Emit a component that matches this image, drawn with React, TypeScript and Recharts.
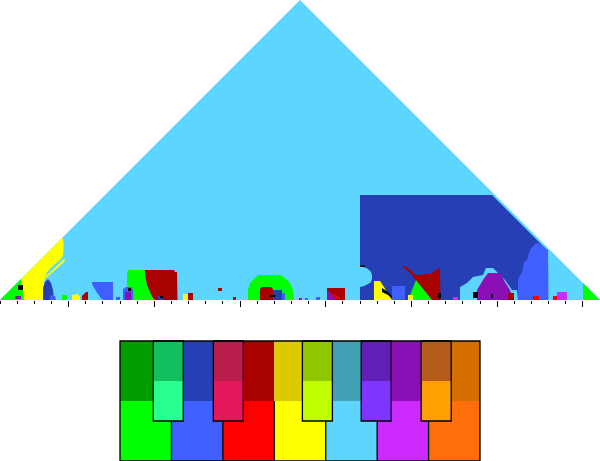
import React from 'react';
import { ComposedChart, Area, XAxis, YAxis, ReferenceArea, ReferenceLine } from 'recharts';

type Seg = [number, number, number]; // [time, low level, high level]

// ---- key colours (pitch class order C .. B) ----
const PITCH_NAMES = ['C', 'C#', 'D', 'D#', 'E', 'F', 'F#', 'G', 'G#', 'A', 'A#', 'B'];
const MAJOR_COLORS = ['#009c00', '#12bf5e', '#273fb5', '#b81d4c', '#a90000', '#dcc900', '#8fc700', '#42a1b5', '#611fb5', '#8a0fb5', '#b45c19', '#d56e00'];
const MINOR_COLORS = ['#00ff00', '#28ff8c', '#3f5fff', '#e2185a', '#ff0000', '#ffff00', '#bfff00', '#5dd5ff', '#8035ff', '#cc2aff', '#ffa000', '#ff6d0c'];

const C_MIN = MINOR_COLORS[0];
const D_MAJ = MAJOR_COLORS[2];
const D_MIN = MINOR_COLORS[2];
const E_MAJ = MAJOR_COLORS[4];
const E_MIN = MINOR_COLORS[4];
const F_MIN = MINOR_COLORS[5];
const G_MIN = MINOR_COLORS[7];
const A_MAJ = MAJOR_COLORS[9];
const A_MIN = MINOR_COLORS[9];
const MARK = '#000000';

// ---- keyscape regions ----
const TRIANGLE: Seg[] = [[0, 0, 0], [300, 0, 300], [600, 0, 0]];
const YELLOW_LEFT: Seg[] = [[21, 0, 21], [43, 0, 43], [44, 18, 44], [47, 28, 47], [55, 36, 55], [60, 40, 60], [63, 44, 62], [63.5, 50, 56]];
const YELLOW_STRIP: Seg[] = [[46, 22, 24], [64, 38, 41], [65, 39.5, 40]];
const GREEN_LEFT: Seg[] = [[0, 0, 0], [21, 0, 21], [22, 0, 14], [24, 0, 0]];
const DBLUE_LEFT: Seg[] = [[43, 0, 12], [45, 0, 18], [48, 0, 21], [51, 0, 17], [53, 0, 10], [54, 0, 0]];
const BLUE_LEFT_BIT: Seg[] = [[50, 0, 5], [55, 0, 4], [56, 0, 0]];
const PURPLE_LEFT_BIT: Seg[] = [[15, 1, 4], [21, 1, 4]];
const GREEN_BIT_1: Seg[] = [[62, 0, 5], [67, 0, 5]];
const YELLOW_BIT_1: Seg[] = [[72, 0, 5], [78, 0, 6], [80, 0, 3]];
const RED_BIT_1: Seg[] = [[82, 0, 4], [86, 0, 8], [88, 0, 8]];
const BLUE_PATCH_1: Seg[] = [[92, 16, 18], [96, 9, 18], [100, 3, 18], [103, 0, 18], [113, 0, 18]];
const BLUE_BIT_2: Seg[] = [[116, 0, 3], [120, 0, 3]];
const GREEN_BIG_1: Seg[] = [[127, 14, 27], [129, 12, 30], [132, 0, 30], [156, 0, 30]];
const BLUE_PATCH_2: Seg[] = [[123, 0, 11], [126, 0, 13], [131, 0, 13], [133, 0, 10]];
const PURPLE_PATCH_2: Seg[] = [[125, 0, 8], [131, 0, 8]];
const RED_BIG_1: Seg[] = [[145, 26, 30], [147, 15, 30], [150, 8, 30], [153, 2, 30], [155, 0, 30], [174, 0, 30], [175, 0, 28], [177, 0, 28], [177.5, 0, 0]];
const DBLUE_BIT_1: Seg[] = [[158, 0, 4], [163, 0, 4]];
const YELLOW_BIT_2: Seg[] = [[183, 0, 6], [188, 0, 6]];
const RED_BIT_2: Seg[] = [[188, 0, 7], [193, 0, 7]];
const RED_BIT_3: Seg[] = [[218, 9, 12], [222, 9, 12]];
const RED_BIT_4: Seg[] = [[233, 0, 3], [236, 0, 3]];
const GREEN_BIG_2: Seg[] = [[248, 0, 10], [250, 0, 17], [253, 0, 20], [258, 0, 25], [280, 0, 25], [285, 0, 22], [290, 0, 17], [293, 0, 10], [294, 0, 0]];
const RED_PATCH_2: Seg[] = [[260, 0, 11], [262, 0, 13], [271, 0, 13], [273, 0, 11]];
const DBLUE_PATCH_2: Seg[] = [[273, 0, 10], [282, 0, 10]];
const BLUE_BIT_3: Seg[] = [[282, 0, 7], [285, 0, 7]];
const PURPLE_BIT_3: Seg[] = [[299, 0, 2], [302, 0, 2]];
const BLUE_BIT_4: Seg[] = [[305, 0, 2], [308, 0, 2]];
const BLUE_BIT_5: Seg[] = [[316, 0, 3], [320, 0, 3]];
const RED_BOX: Seg[] = [[327, 0, 12], [345, 0, 12]];
const PURPLE_BOX: Seg[] = [[327, 0, 10], [330, 0, 8], [336, 0, 0]];
const RED_DIAG: Seg[] = [[333, 4, 6], [340, 0, 2]];
const DBLUE_BIG: Seg[] = [[360, 0, 105], [492, 0, 105], [548, 0, 49]];
const LBLUE_BULGE: Seg[] = [[360, 13, 34], [364, 14, 33], [368, 16, 31], [371, 18, 28], [372, 21, 25]];
const YELLOW_PATCH_3: Seg[] = [[374, 0, 19], [380, 0, 19], [384, 0, 13], [388, 0, 6], [392, 0, 0]];
const BLUE_PATCH_3: Seg[] = [[392, 0, 14], [405, 0, 14]];
const RED_BIG_3: Seg[] = [[403, 33, 35], [408, 29, 32], [412, 25, 28], [416, 19, 25], [420, 14, 25], [425, 8, 26], [430, 2, 26], [432, 0, 27], [436, 0, 30], [440, 0, 32], [440.5, 0, 0]];
const GREEN_TRI_3: Seg[] = [[408, 0, 0], [416, 0, 20], [432, 0, 0]];
const YELLOW_BIT_3: Seg[] = [[408, 0, 5], [413, 0, 5]];
const LBLUE_PATCH_4: Seg[] = [[460, 0, 13], [467, 0, 17], [473, 0, 23], [483, 0, 25], [486, 0, 32], [493, 0, 32], [497, 0, 28], [505, 0, 20], [512, 0, 10], [517, 0, 10], [518, 0, 0]];
const PURPLE_PATCH_4: Seg[] = [[477, 0, 10], [483, 0, 20], [488, 0, 27], [500, 0, 27], [505, 0, 18], [510, 0, 10], [513, 0, 0]];
const MAGENTA_BIT_4: Seg[] = [[453, 0, 3], [458, 0, 3]];
const RED_BIT_5: Seg[] = [[508, 0, 7], [514, 0, 7]];
const BLUE_RIGHT: Seg[] = [[518, 0, 20], [520, 0, 25], [522, 0, 27], [524, 0, 38], [527, 0, 40], [530, 0, 50], [534, 0, 55], [537, 0, 57], [541, 0, 55], [545, 0, 52], [548, 0, 50], [548.5, 0, 0]];
const RED_BIT_6: Seg[] = [[533, 0, 4], [539, 0, 4]];
const RED_BIT_7: Seg[] = [[553, 0, 4], [557, 0, 4]];
const MAGENTA_BIT_5: Seg[] = [[557, 0, 8], [567, 0, 8]];
const GREEN_RIGHT: Seg[] = [[583, 0, 17], [600, 0, 0]];
// small black marks
const MARK_1: Seg[] = [[18, 10, 15], [23, 10, 15]];
const MARK_2: Seg[] = [[128, 9, 12], [131, 9, 12]];
const MARK_3: Seg[] = [[160, 2, 4], [163, 2, 4]];
const MARK_4: Seg[] = [[270, 3, 5], [275, 3, 5]];
const MARK_5: Seg[] = [[360, 33, 34.5], [365, 33, 34.5]];
const MARK_6: Seg[] = [[382, 8, 12], [388, 5, 8], [392, 2, 4]];
const MARK_7: Seg[] = [[438, 2, 7], [441, 2, 7]];
const MARK_8: Seg[] = [[473, 2, 8], [478, 2, 8]];
const MARK_9: Seg[] = [[491, 2, 6], [493, 2, 6]];

const REGIONS: { color: string; pts: Seg[] }[] = [
  { color: G_MIN, pts: TRIANGLE },
  { color: F_MIN, pts: YELLOW_LEFT },
  { color: F_MIN, pts: YELLOW_STRIP },
  { color: C_MIN, pts: GREEN_LEFT },
  { color: D_MAJ, pts: DBLUE_LEFT },
  { color: D_MIN, pts: BLUE_LEFT_BIT },
  { color: A_MAJ, pts: PURPLE_LEFT_BIT },
  { color: C_MIN, pts: GREEN_BIT_1 },
  { color: F_MIN, pts: YELLOW_BIT_1 },
  { color: E_MAJ, pts: RED_BIT_1 },
  { color: D_MIN, pts: BLUE_PATCH_1 },
  { color: D_MIN, pts: BLUE_BIT_2 },
  { color: C_MIN, pts: GREEN_BIG_1 },
  { color: D_MIN, pts: BLUE_PATCH_2 },
  { color: A_MAJ, pts: PURPLE_PATCH_2 },
  { color: E_MAJ, pts: RED_BIG_1 },
  { color: D_MAJ, pts: DBLUE_BIT_1 },
  { color: F_MIN, pts: YELLOW_BIT_2 },
  { color: E_MAJ, pts: RED_BIT_2 },
  { color: E_MAJ, pts: RED_BIT_3 },
  { color: E_MAJ, pts: RED_BIT_4 },
  { color: C_MIN, pts: GREEN_BIG_2 },
  { color: E_MAJ, pts: RED_PATCH_2 },
  { color: D_MAJ, pts: DBLUE_PATCH_2 },
  { color: D_MIN, pts: BLUE_BIT_3 },
  { color: A_MAJ, pts: PURPLE_BIT_3 },
  { color: D_MIN, pts: BLUE_BIT_4 },
  { color: D_MIN, pts: BLUE_BIT_5 },
  { color: E_MAJ, pts: RED_BOX },
  { color: A_MAJ, pts: PURPLE_BOX },
  { color: E_MIN, pts: RED_DIAG },
  { color: D_MAJ, pts: DBLUE_BIG },
  { color: G_MIN, pts: LBLUE_BULGE },
  { color: F_MIN, pts: YELLOW_PATCH_3 },
  { color: D_MIN, pts: BLUE_PATCH_3 },
  { color: E_MAJ, pts: RED_BIG_3 },
  { color: C_MIN, pts: GREEN_TRI_3 },
  { color: F_MIN, pts: YELLOW_BIT_3 },
  { color: G_MIN, pts: LBLUE_PATCH_4 },
  { color: A_MAJ, pts: PURPLE_PATCH_4 },
  { color: A_MIN, pts: MAGENTA_BIT_4 },
  { color: E_MAJ, pts: RED_BIT_5 },
  { color: D_MIN, pts: BLUE_RIGHT },
  { color: E_MIN, pts: RED_BIT_6 },
  { color: E_MIN, pts: RED_BIT_7 },
  { color: A_MIN, pts: MAGENTA_BIT_5 },
  { color: C_MIN, pts: GREEN_RIGHT },
  { color: MARK, pts: MARK_1 },
  { color: MARK, pts: MARK_2 },
  { color: MARK, pts: MARK_3 },
  { color: MARK, pts: MARK_4 },
  { color: MARK, pts: MARK_5 },
  { color: MARK, pts: MARK_6 },
  { color: MARK, pts: MARK_7 },
  { color: MARK, pts: MARK_8 },
  { color: MARK, pts: MARK_9 },
];

// ---- time axis ticks (measures) ----
const TOTAL_MEASURES = 35;
const TICK_MEASURES = [0, 1, 2, 3, 4, 5, 6, 7, 8, 9, 10, 11, 12, 13, 14, 15, 16, 17, 18, 19, 20, 21, 22, 23, 24, 25, 26, 27, 28, 29, 30, 31, 32, 33, 34];
const MAJOR_MEASURES = [4, 9, 14, 19, 24, 29, 34];
const TIME_SPAN = 600;
const STEP = TIME_SPAN / TOTAL_MEASURES;
const TICKS = TICK_MEASURES.map((m) => m * STEP);

// merged table for the library
const TABLE = (() => {
  const rows: any[] = [];
  REGIONS.forEach((r, i) =>
    r.pts.forEach(([x, lo, hi], j) => rows.push({ x, ord: i * 1000 + j, [`r${i}`]: [lo, hi] }))
  );
  rows.sort((a, b) => a.x - b.x || a.ord - b.ord);
  return rows;
})();

// ---- keyboard legend ----
const WHITE_KEYS = [0, 2, 4, 5, 7, 9, 11];
const BLACK_KEYS = [1, 3, 6, 8, 10];
const BLACK_SHIFT = [0.11, 0.11, 0.08, 0.04, 0.04];
const WHITE_W = 12 / WHITE_KEYS.length;
const KEY_ROWS = PITCH_NAMES.map((name, pc) => ({ pc, name, lvl: 0 })).concat([{ pc: 12, name: '', lvl: 3 }]);
const LINE_W = 1.3;

const renderTick = (p: any) => {
  const m = Math.round(p.payload.value / STEP);
  const major = MAJOR_MEASURES.includes(m);
  const x = Math.floor(p.x) + 0.5;
  return <line x1={x} x2={x} y1={p.y + 1} y2={p.y + (major ? 7 : 4)} stroke="#000" strokeWidth={1} />;
};

export default function App() {
  return (
    <div style={{ position: 'absolute', left: 0, top: 0, width: 600, height: 461, background: '#fff' }}>
      <div style={{ position: 'absolute', left: 0, top: 0 }}>
        <ComposedChart width={600} height={310} data={TABLE} margin={{ top: 0, right: 0, bottom: 0, left: 0 }}>
          <XAxis
            dataKey="x"
            type="number"
            domain={[0, TIME_SPAN]}
            ticks={TICKS}
            interval={0}
            height={10}
            axisLine={false}
            tickLine={false}
            tickSize={0}
            tickMargin={0}
            tick={renderTick}
          />
          <YAxis type="number" domain={[0, 300]} hide />
          {REGIONS.map((r, i) => (
            <Area
              key={i}
              dataKey={`r${i}`}
              type="linear"
              stroke="none"
              fill={r.color}
              fillOpacity={1}
              connectNulls
              dot={false}
              activeDot={false}
              isAnimationActive={false}
            />
          ))}
        </ComposedChart>
      </div>
      <div style={{ position: 'absolute', left: 119, top: 340 }}>
        <ComposedChart width={362} height={122} data={KEY_ROWS} margin={{ top: 1, right: 1, bottom: 1, left: 1 }}>
          <XAxis dataKey="pc" type="number" domain={[0, 12]} allowDataOverflow hide />
          <YAxis type="number" domain={[0, 3]} allowDataOverflow hide />
          <Area dataKey="lvl" stroke="none" fill="none" isAnimationActive={false} dot={false} activeDot={false} />
          {WHITE_KEYS.map((pc, i) => (
            <ReferenceArea key={`wt${pc}`} ifOverflow="visible" x1={i * WHITE_W} x2={(i + 1) * WHITE_W} y1={1.5} y2={3} fill={MAJOR_COLORS[pc]} fillOpacity={1} stroke="none" />
          ))}
          {WHITE_KEYS.map((pc, i) => (
            <ReferenceArea key={`wb${pc}`} ifOverflow="visible" x1={i * WHITE_W} x2={(i + 1) * WHITE_W} y1={0} y2={1.5} fill={MINOR_COLORS[pc]} fillOpacity={1} stroke="none" />
          ))}
          {WHITE_KEYS.slice(1).map((pc, i) => (
            <ReferenceLine
              key={`sep${pc}`}
              ifOverflow="visible"
              segment={[{ x: (i + 1) * WHITE_W, y: 0 }, { x: (i + 1) * WHITE_W, y: pc - WHITE_KEYS[i] === 2 ? 1 : 1.5 }]}
              stroke="#000"
              strokeWidth={LINE_W}
            />
          ))}
          {BLACK_KEYS.map((pc, i) => (
            <ReferenceArea key={`bt${pc}`} ifOverflow="visible" x1={pc + BLACK_SHIFT[i]} x2={pc + BLACK_SHIFT[i] + 1} y1={2} y2={3} fill={MAJOR_COLORS[pc]} fillOpacity={1} stroke="none" />
          ))}
          {BLACK_KEYS.map((pc, i) => (
            <ReferenceArea key={`bb${pc}`} ifOverflow="visible" x1={pc + BLACK_SHIFT[i]} x2={pc + BLACK_SHIFT[i] + 1} y1={1} y2={2} fill={MINOR_COLORS[pc]} fillOpacity={1} stroke="none" />
          ))}
          {BLACK_KEYS.map((pc, i) => (
            <ReferenceArea key={`bo${pc}`} ifOverflow="visible" x1={pc + BLACK_SHIFT[i]} x2={pc + BLACK_SHIFT[i] + 1} y1={1} y2={3} fill="none" fillOpacity={0} stroke="#000" strokeWidth={LINE_W} />
          ))}
          <ReferenceArea ifOverflow="visible" x1={0} x2={12} y1={0} y2={3} fill="none" fillOpacity={0} stroke="#000" strokeWidth={LINE_W} />
        </ComposedChart>
      </div>
    </div>
  );
}
